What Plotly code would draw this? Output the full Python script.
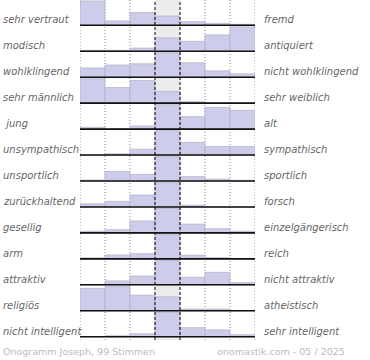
import plotly.graph_objects as go

left_labels = ["sehr vertraut", "modisch", "wohlklingend", "sehr männlich", "\u00a0jung",
               "unsympathisch", "unsportlich", "zurückhaltend", "gesellig", "arm",
               "attraktiv", "religiös", "nicht intelligent"]
right_labels = ["fremd", "antiquiert", "nicht wohlklingend", "sehr weiblich", "alt",
                "sympathisch", "sportlich", "forsch", "einzelgängerisch", "reich",
                "nicht attraktiv", "atheistisch", "sehr intelligent"]

# relative bar heights per row (7 steps from left pole to right pole)
sehr_vertraut = [100, 18, 52, 38, 15, 8, 4]
modisch = [4, 4, 13, 55, 41, 67, 100]
wohlklingend = [38, 50, 55, 100, 59, 26, 14]
sehr_maennlich = [100, 64, 93, 48, 6, 0, 0]
jung = [7, 1, 13, 100, 51, 89, 77]
unsympathisch = [0, 5, 24, 100, 52, 35, 35]
unsportlich = [4, 39, 27, 100, 18, 8, 3]
zurueckhaltend = [13, 23, 49, 100, 7, 0, 0]
gesellig = [7, 13, 49, 100, 36, 17, 7]
arm = [4, 16, 21, 100, 15, 5, 0]
attraktiv = [0, 16, 36, 100, 31, 51, 9]
religioes = [92, 100, 64, 57, 7, 7, 0]
nicht_intelligent = [0, 4, 12, 100, 37, 28, 8]

rows = [sehr_vertraut, modisch, wohlklingend, sehr_maennlich, jung, unsympathisch,
        unsportlich, zurueckhaltend, gesellig, arm, attraktiv, religioes, nicht_intelligent]

footer_left = "Onogramm Joseph, 99 Stimmen"
footer_right = "onomastik.com - 05 / 2025"

n = len(rows)
FILL = 0.94
xs, ys, bases = [], [], []
for i, r in enumerate(rows):
    base = n - 1 - i
    m = max(r)
    for j, v in enumerate(r):
        xs.append(j + 0.5)
        ys.append(v / m * FILL)
        bases.append(base)

fig = go.Figure()
fig.add_trace(go.Bar(x=xs, y=ys, base=bases, width=1,
                     marker=dict(color="#cdcceb", line=dict(color="#b0b0c4", width=0.7)),
                     hoverinfo="skip", showlegend=False))

ymin, ymax = -0.127, 12.975
shapes = []
# middle column background
shapes.append(dict(type="rect", x0=3, x1=4, y0=ymin, y1=ymax, fillcolor="#ececec",
                   line=dict(width=0), layer="below"))
for xv in [0, 1, 2, 5, 6, 7]:
    shapes.append(dict(type="line", x0=xv, x1=xv, y0=ymin, y1=ymax,
                       line=dict(color="#888", width=1, dash="1px,2px"), layer="below"))
for xv in [3, 4]:
    shapes.append(dict(type="line", x0=xv, x1=xv, y0=ymin, y1=ymax,
                       line=dict(color="#000", width=1, dash="3px,2px"), layer="above"))
for i in range(n):
    b = n - 1 - i
    shapes.append(dict(type="line", x0=0, x1=7, y0=b, y1=b,
                       line=dict(color="#111", width=1.6), layer="above"))

annotations = []
lab_font = dict(family="DejaVu Sans", size=10, color="#666", style="italic")
for i in range(n):
    b = n - 1 - i + 0.21
    annotations.append(dict(text=left_labels[i], xref="paper", x=0, xshift=-79, xanchor="left",
                            yref="y", y=b, yanchor="middle", showarrow=False, font=lab_font))
    annotations.append(dict(text=right_labels[i], xref="paper", x=1, xshift=7, xanchor="left",
                            yref="y", y=b, yanchor="middle", showarrow=False, font=lab_font))
foot_font = dict(family="DejaVu Sans", size=9.5, color="#bbb")
annotations.append(dict(text=footer_left, xref="paper", x=0, xshift=-79, xanchor="left",
                        yref="paper", y=-0.035, yanchor="middle", showarrow=False, font=foot_font))
annotations.append(dict(text=footer_right, xref="paper", x=1, xshift=92, xanchor="right",
                        yref="paper", y=-0.035, yanchor="middle", showarrow=False, font=foot_font))

fig.update_layout(width=370, height=360, margin=dict(l=80, r=115, t=0, b=20),
                  paper_bgcolor="white", plot_bgcolor="white",
                  xaxis=dict(range=[0, 7], visible=False, fixedrange=True),
                  yaxis=dict(range=[ymin, ymax], visible=False, fixedrange=True),
                  shapes=shapes, annotations=annotations, bargap=0)
fig.write_html("out.html", config={"displayModeBar": False, "staticPlot": True},
               post_script="document.body.style.margin='0';document.body.style.overflow='hidden';")
